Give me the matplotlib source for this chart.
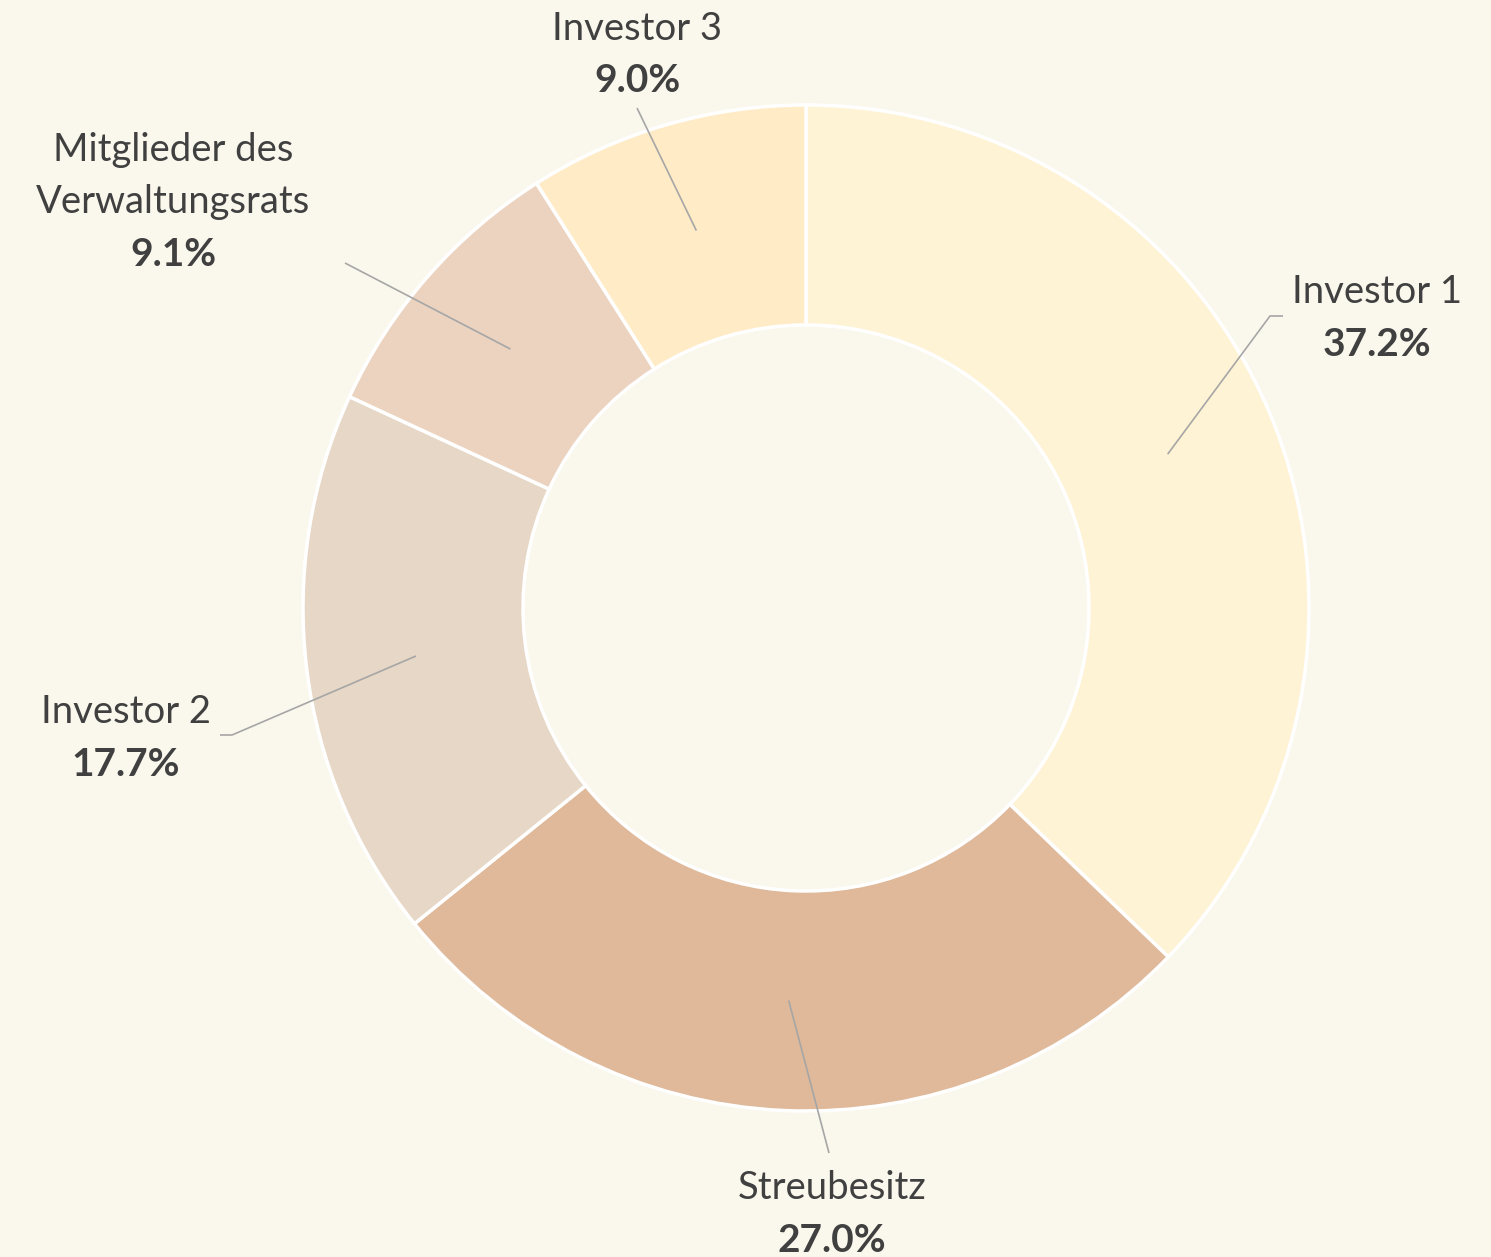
import numpy as np
import matplotlib.pyplot as plt

labels = ["Investor 1", "Streubesitz", "Investor 2", "Mitglieder des\nVerwaltungsrats", "Investor 3"]
shares = [37.2, 27.0, 17.7, 9.1, 9.0]
colors = ["#FFF3D5", "#DFB99A", "#E7D7C6", "#EBD3C0", "#FFEBC6"]

W, H = 1491, 1257
BG = "#FAF8EC"
TXT = "#404040"
LEAD = "#A6A6A6"

cx, cy = 806, 608
r_out, r_in = 503, 283

# label layout: (text centre x, top line centre y, leader end x, leader end y, horizontal tail x)
layout = [
    (1377, 292, 1270, 316, 1283),
    (832, 1188, 829, 1153, None),
    (126, 712, 232, 735, 220),
    (173, 150, 345, 263, None),
    (637, 29, 637, 108, None),
]


def Y(y):
    return H - y


plt.rcParams["font.family"] = ["Lato", "DejaVu Sans"]
fig = plt.figure(figsize=(W / 100, H / 100), dpi=100, facecolor=BG)
ax = fig.add_axes([0, 0, 1, 1])
ax.set_facecolor(BG)

wedges, _ = ax.pie(shares, colors=colors, startangle=90, counterclock=False,
                   center=(cx, Y(cy)), radius=r_out, frame=True,
                   wedgeprops=dict(width=r_out - r_in, edgecolor="white", linewidth=2.5))
ax.set_xlim(0, W)
ax.set_ylim(0, H)
ax.set_aspect("equal")
ax.axis("off")

r_mid = (r_out + r_in) / 2
for w, lab, val, (tx, ty, ex, ey, tail) in zip(wedges, labels, shares, layout):
    ang = np.deg2rad((w.theta1 + w.theta2) / 2)
    sx, sy = cx + r_mid * np.cos(ang), Y(cy) + r_mid * np.sin(ang)
    xs, ys = [sx, ex], [sy, Y(ey)]
    if tail is not None:
        xs.append(tail)
        ys.append(Y(ey))
    ax.plot(xs, ys, color=LEAD, lw=1.2, solid_capstyle="butt")
    lines = lab.split("\n")
    for i, line in enumerate(lines):
        ax.text(tx, Y(ty + 52 * i), line, ha="center", va="center",
                fontsize=27.5, color=TXT)
    ax.text(tx, Y(ty + 52 * len(lines)), f"{val:.1f}%", ha="center", va="center",
            fontsize=28, fontweight="bold", color=TXT)

fig.savefig("out.png", dpi=100, facecolor=BG)
